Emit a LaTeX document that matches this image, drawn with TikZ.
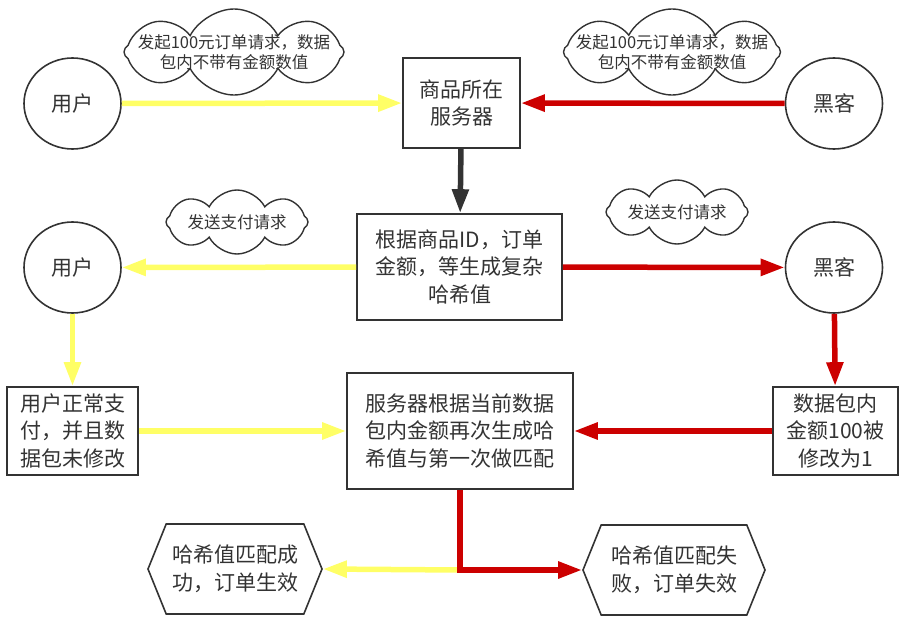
\documentclass[tikz,border=0pt]{standalone}
\usepackage{fontspec}
\newfontfamily\cjk{Noto Sans CJK SC}
\usetikzlibrary{shapes.geometric,shapes.symbols,arrows.meta}
\definecolor{ink}{HTML}{333333}
\definecolor{ylw}{HTML}{FFFF66}
\definecolor{rd}{HTML}{CC0000}

\begin{document}
\begin{tikzpicture}[x=1pt,y=-1pt,
 box/.style={draw=ink,line width=1.6pt,text=ink,font=\cjk\fontsize{21}{27.5}\selectfont,align=center,inner sep=0pt},
 actor/.style={box,ellipse,minimum width=97pt,minimum height=91pt},
 hexa/.style={box,signal,signal to=east and west,signal pointer angle=136,minimum height=90pt},
 bubble/.style={draw=ink,line width=1.4pt,cloud,cloud puffs=8,cloud puff arc=125,cloud ignores aspect,inner sep=0pt},
 bubbletext/.style={text=ink,font=\cjk\fontsize{16.5}{20.5}\selectfont,align=center,inner sep=0pt},
 tip/.style={-{Triangle[length=24pt,width=16pt]},line width=5.5pt},
 ylwline/.style={tip,draw=ylw},
 rdline/.style={tip,draw=rd}]
 \useasboundingbox (0,0) rectangle (918,628);
 \node[actor] (user1) at (72.5,103.5) {用户};
 \node[actor] (hacker1) at (834,103.5) {黑客};
 \node[box,minimum width=117pt,minimum height=90pt] (server) at (461.5,103) {商品所在\\服务器};
 \node[bubble,minimum width=220pt,minimum height=86pt,label={[bubbletext]center:发起100元订单请求，数据\\包内不带有金额数值}] (askA) at (234,52) {};
 \node[bubble,minimum width=217pt,minimum height=86pt,label={[bubbletext]center:发起100元订单请求，数据\\包内不带有金额数值}] (askB) at (672,52) {};
 \node[box,minimum width=205pt,minimum height=106pt] (hash) at (459.5,267) {根据商品ID，订单\\金额，等生成复杂\\哈希值};
 \node[actor] (user2) at (72.5,267.5) {用户};
 \node[actor] (hacker2) at (834,267.5) {黑客};
 \node[bubble,minimum width=142pt,minimum height=64pt,label={[bubbletext]center:发送支付请求}] (payA) at (237,222) {};
 \node[bubble,minimum width=142pt,minimum height=64pt,label={[bubbletext]center:发送支付请求}] (payB) at (677,212) {};
 \node[box,minimum width=131pt,minimum height=88pt] (normal) at (72.5,431) {用户正常支\\付，并且数\\据包未修改};
 \node[box,minimum width=226pt,minimum height=116pt] (match) at (460,431) {服务器根据当前数据\\包内金额再次生成哈\\希值与第一次做匹配};
 \node[box,minimum width=125pt,minimum height=88pt] (changed) at (835.5,431) {数据包内\\金额100被\\修改为1};
 \node[hexa,minimum width=174pt] (ok) at (235,569) {哈希值匹配成\\功，订单生效};
 \node[hexa,minimum width=182pt] (fail) at (674,570) {哈希值匹配失\\败，订单失效};
 \coordinate (split) at (match.south |- fail.west);
 \draw[ylwline] (user1) -- (server);
 \draw[rdline] (hacker1) -- (server);
 \draw[tip,draw=ink] (server) -- (hash);
 \draw[ylwline] (hash) -- (user2);
 \draw[rdline] (hash) -- (hacker2);
 \draw[ylwline] (user2) -- (normal);
 \draw[rdline] (hacker2) -- (changed);
 \draw[ylwline] (normal) -- (match);
 \draw[rdline] (changed) -- (match);
 \draw[ylwline] (split) -- (ok.east);
 \draw[rdline] (match.south) |- (fail.west);
\end{tikzpicture}
\end{document}
